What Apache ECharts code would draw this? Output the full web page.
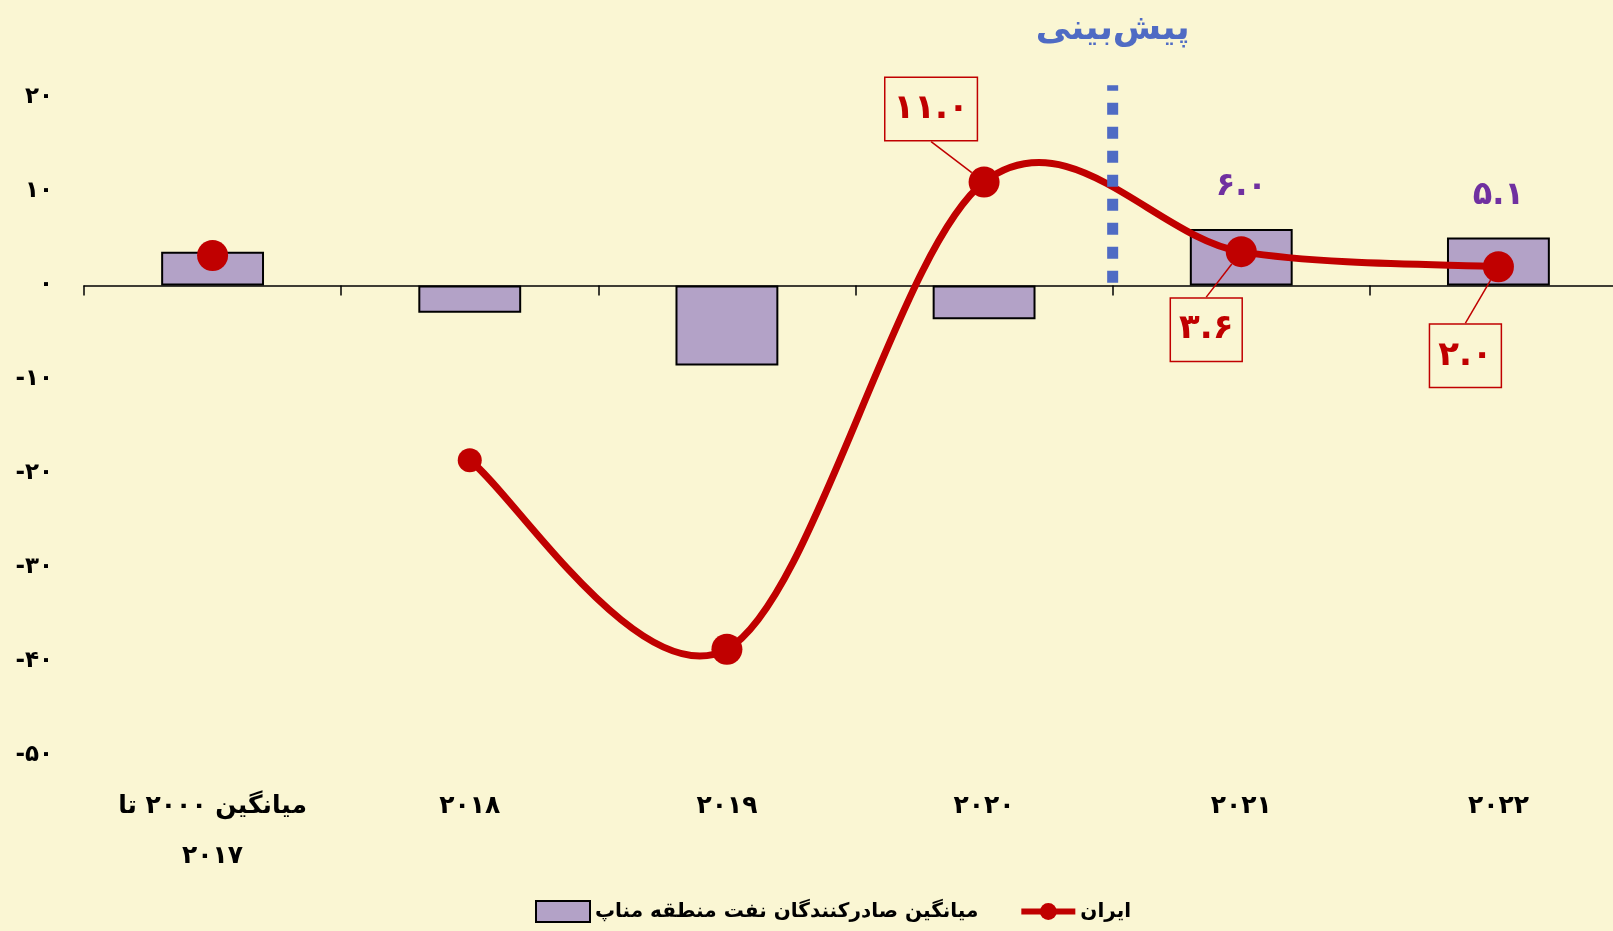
<!DOCTYPE html>
<html>

<head>
    <meta charset="UTF-8">
    <title>رشد اقتصادی ایران و صادرکنندگان نفت منطقه مناپ</title>
    <script type="text/javascript" src="https://cdn.jsdelivr.net/npm/echarts@6/dist/echarts.min.js"></script>
</head>

<body style="margin: 0;padding: 0;background:#FAF6D3;">
    <div id="container" style="width:1613px; height:931px;"></div>
    <script>
        // داده‌ها
        var categories = ['میانگین ۲۰۰۰ تا\n۲۰۱۷', '۲۰۱۸', '۲۰۱۹', '۲۰۲۰', '۲۰۲۱', '۲۰۲۲'];
        var menapName = 'میانگین صادرکنندگان نفت منطقه مناپ';
        var menapValues = [3.6, -2.9, -8.5, -3.6, 6.0, 5.1];
        var iranName = 'ایران';
        var iranValues = ['-', -18.6, -38.7, 11.0, 3.6, 2.0];
        var iranAverage = [3.2, '-', '-', '-', '-', '-'];
        var yTicks = [-50, -40, -30, -20, -10, 0, 10, 20];
        var forecastLine = [[3.5, 0.3], [3.5, 21.3]];
        var forecastText = 'پیش\u200cبینی';

        var FONT = 'DejaVu Sans';
        var RED = '#C00000';
        var BLUE = '#4F6BC4';
        var PURPLE = '#7030A0';
        var BG = '#FAF6D3';

        function toFa(v) {
            return String(v).replace(/[0-9]/g, (d) => '۰۱۲۳۴۵۶۷۸۹'[d]);
        }

        // محل جعبه‌های برچسب ایران نسبت به نقطه
        var calloutShift = {3: [-53, -73], 4: [-35, 78], 5: [-33, 89]};

        // منحنی هموار به سبک اکسل (Catmull-Rom) روی مختصات محورها
        function renderIranCurve(params, api) {
            if (params.dataIndex !== 0) return;
            var pts = [];
            iranValues.forEach((v, i) => {
                if (v !== '-') pts.push(api.coord([i, v]));
            });
            var segs = [];
            for (var i = 0; i < pts.length - 1; i++) {
                var p0 = pts[Math.max(i - 1, 0)], p1 = pts[i], p2 = pts[i + 1];
                var p3 = pts[Math.min(i + 2, pts.length - 1)];
                segs.push({
                    type: 'bezierCurve',
                    shape: {
                        x1: p1[0], y1: p1[1],
                        cpx1: p1[0] + (p2[0] - p0[0]) / 6, cpy1: p1[1] + (p2[1] - p0[1]) / 6,
                        cpx2: p2[0] - (p3[0] - p1[0]) / 6, cpy2: p2[1] - (p3[1] - p1[1]) / 6,
                        x2: p2[0], y2: p2[1]
                    },
                    style: {fill: null, stroke: RED, lineWidth: 7, lineCap: 'round'}
                });
            }
            return {type: 'group', children: segs};
        }

        var chart = echarts.init(document.getElementById('container'), null, {renderer: 'canvas'});

        var option = {
            backgroundColor: BG,
            textStyle: {fontFamily: FONT},
            animation: false,
            grid: {left: 84, right: -14, top: 97.5, bottom: 175.5, outerBoundsMode: 'none'},
            legend: {
                data: [
                    {name: menapName, icon: 'rect'},
                    {name: iranName, lineStyle: {color: RED, width: 6, opacity: 1}}
                ],
                left: 530,
                bottom: 3,
                itemWidth: 54,
                itemHeight: 21,
                itemGap: 40,
                textStyle: {fontSize: 20, fontWeight: 'bold', color: '#000', fontFamily: FONT}
            },
            xAxis: [{
                // خط محور روی صفر
                type: 'category',
                data: categories,
                axisLine: {onZero: true, lineStyle: {color: '#000', width: 1.5}},
                axisTick: {show: true, length: 10, lineStyle: {color: '#000', width: 1.5}},
                axisLabel: {show: false}
            }, {
                // برچسب‌های پایین
                type: 'category',
                data: categories,
                position: 'bottom',
                axisLine: {show: false, onZero: false},
                axisTick: {show: false},
                axisLabel: {
                    margin: 26,
                    fontSize: 25,
                    fontWeight: 'bold',
                    color: '#000',
                    lineHeight: 50,
                    fontFamily: FONT
                }
            }, {
                type: 'value',
                min: -0.5,
                max: 5.5,
                show: false
            }],
            yAxis: {
                type: 'value',
                min: yTicks[0],
                max: yTicks[yTicks.length - 1],
                interval: 10,
                axisLine: {show: false},
                axisTick: {show: false},
                splitLine: {show: false},
                axisLabel: {
                    margin: 31,
                    fontSize: 23,
                    fontWeight: 'bold',
                    color: '#000',
                    fontFamily: FONT,
                    formatter: (v) => toFa(v)
                }
            },
            series: [{
                type: 'bar',
                name: menapName,
                xAxisIndex: 0,
                barWidth: '40%',
                itemStyle: {color: '#B3A2C7', borderColor: '#000', borderWidth: 2},
                data: menapValues.map((v, i) => ({
                    value: v,
                    label: {
                        show: i >= 4,
                        position: 'top',
                        distance: 26,
                        color: PURPLE,
                        fontSize: 32,
                        fontWeight: 'bold',
                        fontFamily: FONT,
                        formatter: (p) => toFa(p.value.toFixed(1))
                    }
                })),
                z: 2
            }, {
                // نقاط و برچسب‌های ایران (خط آن با سری سفارشی کشیده می‌شود)
                type: 'line',
                name: iranName,
                xAxisIndex: 0,
                symbol: 'circle',
                symbolSize: 31,
                lineStyle: {color: RED, width: 6, opacity: 0},
                itemStyle: {color: RED},
                data: iranValues.map((v, i) => {
                    var item = {value: v};
                    if (i === 1) item.symbolSize = 24;
                    if (calloutShift[i]) {
                        item.label = {
                            show: true,
                            position: 'inside',
                            color: RED,
                            fontSize: 34,
                            fontWeight: 'bold',
                            fontFamily: FONT,
                            backgroundColor: BG,
                            borderColor: RED,
                            borderWidth: 1.5,
                            padding: [14, 8],
                            formatter: (p) => toFa(p.value.toFixed(1))
                        };
                    }
                    return item;
                }),
                labelLayout: (p) => {
                    var s = calloutShift[p.dataIndex];
                    return s ? {dx: s[0], dy: s[1]} : {};
                },
                labelLine: {show: true, lineStyle: {color: RED, width: 1.5}},
                z: 4
            }, {
                type: 'custom',
                name: 'iranCurve',
                xAxisIndex: 0,
                renderItem: renderIranCurve,
                data: iranValues.map((v, i) => [i, v]).filter((d) => d[1] !== '-'),
                encode: {x: 0, y: 1},
                silent: true,
                z: 3
            }, {
                type: 'scatter',
                name: iranName,
                xAxisIndex: 0,
                symbolSize: 31,
                itemStyle: {color: RED, opacity: 1},
                data: iranAverage,
                z: 4
            }, {
                // خط جداکننده پیش‌بینی
                type: 'line',
                name: 'forecast',
                xAxisIndex: 2,
                clip: false,
                symbol: 'circle',
                symbolSize: 1,
                itemStyle: {color: 'rgba(0,0,0,0)'},
                lineStyle: {color: BLUE, width: 11, type: [12, 12], cap: 'butt'},
                data: forecastLine.map((d, i) => ({
                    value: d,
                    label: {
                        show: i === 1,
                        position: 'top',
                        distance: 37,
                        color: BLUE,
                        fontSize: 35,
                        fontWeight: 'bold',
                        fontFamily: FONT,
                        formatter: forecastText
                    }
                })),
                z: 6
            }]
        };
        chart.setOption(option);
    </script>
</body>

</html>
